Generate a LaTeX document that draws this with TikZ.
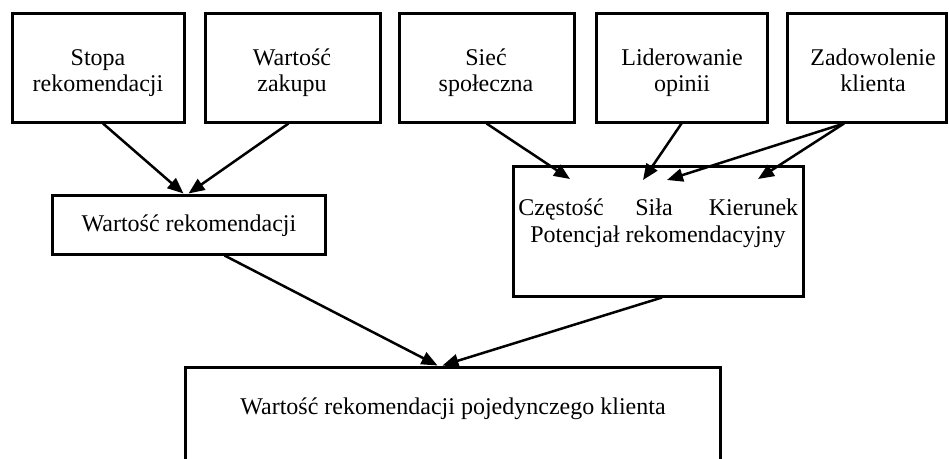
\documentclass[tikz,border=0pt]{standalone}
\usepackage{fontspec}
\setmainfont{Liberation Serif}
\usetikzlibrary{arrows.meta}
\begin{document}
\begin{tikzpicture}[x=1pt,y=-1pt,
  box/.style={draw, line width=3pt, inner sep=0pt},
  txt/.style={font=\fontsize{24}{27}\selectfont, anchor=base, inner sep=0pt},
  arr/.style={line width=2.5pt, -{Triangle[length=16pt,width=13pt]}}]
\useasboundingbox (0,0) rectangle (949,458);
\clip (0,0) rectangle (949,458);
% top row
\node[box, minimum width=172pt, minimum height=109pt] (box1) at (98,67.5) {};
\node[txt] (t1a) at (98,65) {Stopa};
\node[txt] (t1b) at (98,91) {rekomendacji};
\node[box, minimum width=175pt, minimum height=109pt] (box2) at (292.5,67.5) {};
\node[txt] (t2a) at (292,65) {Wartość};
\node[txt] (t2b) at (292,91) {zakupu};
\node[box, minimum width=175pt, minimum height=109pt] (box3) at (486.5,67.5) {};
\node[txt] (t3a) at (486,65) {Sieć};
\node[txt] (t3b) at (486,91) {społeczna};
\node[box, minimum width=171pt, minimum height=109pt] (box4) at (681.5,67.5) {};
\node[txt] (t4a) at (682,65) {Liderowanie};
\node[txt] (t4b) at (682,91) {opinii};
\node[box, minimum width=159pt, minimum height=109pt] (box5) at (867,67.5) {};
\node[txt] (t5a) at (873,65) {Zadowolenie};
\node[txt] (t5b) at (873,91) {klienta};
% middle row
\node[box, minimum width=273pt, minimum height=59pt] (wr) at (188.5,224.5) {};
\node[txt] (wrt) at (189,231) {Wartość rekomendacji};
\node[box, minimum width=290pt, minimum height=130pt] (pot) at (658,231) {};
\node[txt] (czest) at (561,215) {Częstość};
\node[txt] (sila) at (654,215) {Siła};
\node[txt] (kier) at (753.5,215) {Kierunek};
\node[txt] (pott) at (658,242) {Potencjał rekomendacyjny};
% bottom
\node[box, minimum width=535pt, minimum height=113pt] (bot) at (452.5,423.5) {};
\node[txt] (bott) at (453,414) {Wartość rekomendacji pojedynczego klienta};
% arrow targets inside the potential box
\coordinate (tC) at (570,179);
\coordinate (tS1) at (643,180);
\coordinate (tS2) at (667,180);
\coordinate (tK) at (758,179);
% connectors
\draw[arr] ([xshift=5pt]box1.south) -- ([xshift=-5pt]wr.north);
\draw[arr] ([xshift=-4pt]box2.south) -- (wr.north);
\draw[arr] (box3.south) -- (tC);
\draw[arr] (box4.south) -- (tS1);
\draw[arr] ([xshift=-23pt]box5.south) -- (tS2);
\draw[arr] ([xshift=-23pt]box5.south) -- (tK);
\draw[arr] ([xshift=36pt]wr.south) -- ([xshift=-15pt]bot.north);
\draw[arr] ([xshift=4pt]pot.south) -- ([xshift=-10pt]bot.north);
\end{tikzpicture}
\end{document}
